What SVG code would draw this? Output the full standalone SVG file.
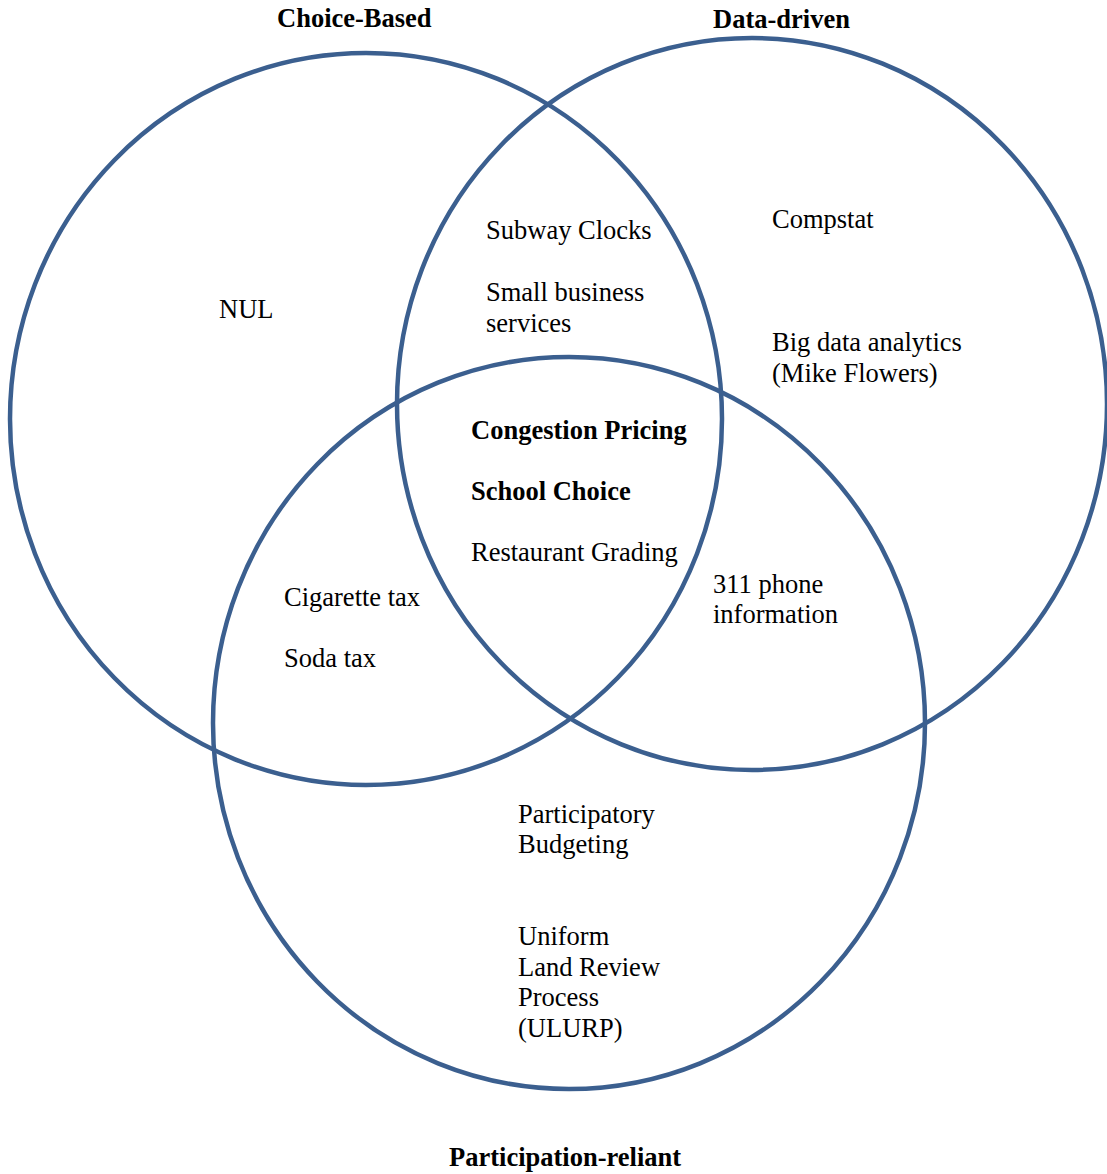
<svg xmlns="http://www.w3.org/2000/svg" width="1107" height="1174" viewBox="0 0 1107 1174">
<style>
.c{fill:none;stroke:#3b5f8f;stroke-width:4.5}
text{font-family:"Liberation Serif","Times New Roman",serif;font-size:26.5px;fill:#000}
.b{font-weight:bold}
</style>
<rect width="1107" height="1174" fill="#fff"/>
<g id="choice">
<ellipse class="c" cx="366" cy="419" rx="356" ry="366"/>
<text class="b" x="277" y="27">Choice-Based</text>
</g>
<g id="data">
<ellipse class="c" cx="752" cy="404" rx="355" ry="366"/>
<text class="b" x="713" y="28">Data-driven</text>
</g>
<g id="participation">
<ellipse class="c" cx="569" cy="723" rx="356" ry="366"/>
<text class="b" x="449" y="1166">Participation-reliant</text>
</g>
<g id="labels">
<text x="219" y="318">NUL</text>
<text x="486" y="239">Subway Clocks</text>
<text x="486" y="301">Small business</text>
<text x="486" y="332">services</text>
<text x="772" y="228">Compstat</text>
<text x="772" y="351">Big data analytics</text>
<text x="772" y="382">(Mike Flowers)</text>
<text class="b" x="471" y="439">Congestion Pricing</text>
<text class="b" x="471" y="500">School Choice</text>
<text x="471" y="561">Restaurant Grading</text>
<text x="713" y="593">311 phone</text>
<text x="713" y="623">information</text>
<text x="284" y="606">Cigarette tax</text>
<text x="284" y="667">Soda tax</text>
<text x="518" y="823">Participatory</text>
<text x="518" y="853">Budgeting</text>
<text x="518" y="945">Uniform</text>
<text x="518" y="976">Land Review</text>
<text x="518" y="1006">Process</text>
<text x="518" y="1037">(ULURP)</text>
</g>
</svg>
